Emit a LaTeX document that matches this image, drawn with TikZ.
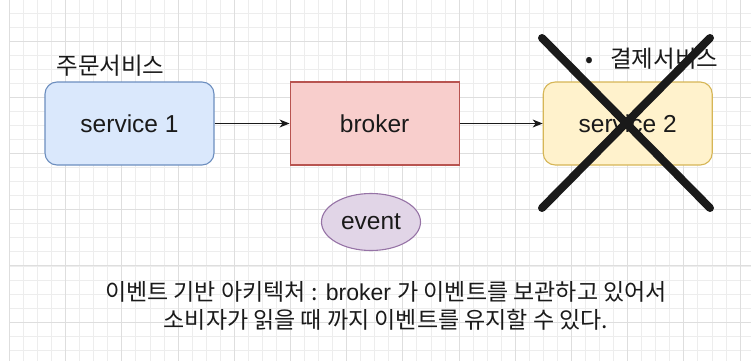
\documentclass[tikz,border=0pt]{standalone}
\usepackage{fontspec}
\setmainfont{Liberation Sans}
\newfontfamily\krfont{Noto Sans CJK KR}
\usetikzlibrary{arrows.meta,positioning,shapes.geometric}

\definecolor{svcfill}{HTML}{DAE8FC}
\definecolor{svcline}{HTML}{6C8EBF}
\definecolor{brkfill}{HTML}{F8CECC}
\definecolor{brkline}{HTML}{B85450}
\definecolor{payfill}{HTML}{FFF2CC}
\definecolor{payline}{HTML}{D6B656}
\definecolor{evtfill}{HTML}{E1D5E7}
\definecolor{evtline}{HTML}{9673A6}
\definecolor{gridminor}{HTML}{EDEDED}
\definecolor{gridmajor}{HTML}{DEDEDE}
\definecolor{ink}{HTML}{1A1A1A}

\begin{document}
\begin{tikzpicture}[
  x=1pt, y=-1pt,
  node distance=75pt,
  box/.style={draw, line width=1.1pt, minimum width=169pt, minimum height=83pt,
    inner sep=0pt, text=ink, font=\fontsize{24.5}{28}\selectfont},
  roundbox/.style={box, rounded corners=12pt},
  label/.style={text=ink, inner sep=0pt, font=\fontsize{23.5}{27}\selectfont\krfont},
  arrow/.style={-{Stealth[length=10pt,width=8pt,inset=3pt]}, line width=1.1pt, ink}
]
\useasboundingbox (0,0) rectangle (751,361);
\fill[white] (0,0) rectangle (751,361);
% background grid
\foreach \i in {0,...,52} \draw[gridminor, line width=0.6pt] (9.3+14.05*\i,0) -- (9.3+14.05*\i,361);
\foreach \j in {-2,...,22} \draw[gridminor, line width=0.6pt] (9.3,41+14.05*\j) -- (751,41+14.05*\j);
\foreach \i in {0,...,13} \draw[gridmajor, line width=0.7pt] (9.3+56.2*\i,0) -- (9.3+56.2*\i,361);
\foreach \j in {-1,...,5} \draw[gridmajor, line width=0.7pt] (9.3,41+56.2*\j) -- (751,41+56.2*\j);

\node[roundbox, fill=svcfill, draw=svcline] (svc1) at (129.5,123.5) {service 1};
\node[box, fill=brkfill, draw=brkline, right=of svc1] (broker) {broker};
\node[roundbox, fill=payfill, draw=payline, right=83pt of broker] (svc2) {service 2};
\node[ellipse, draw=evtline, fill=evtfill, line width=1.1pt, minimum width=99pt,
  minimum height=57pt, inner sep=0pt, text=ink, font=\fontsize{24.5}{28}\selectfont]
  (event) at (371,222) {event};

\node[label] (orderlbl) at (110.5,66) {주문서비스};
\node[label, anchor=west] (paylbl) at (585,59) {•\hspace{17pt}결제서비스};

\draw[arrow] (svc1) -- (broker);
\draw[arrow] (broker) -- (svc2);

% service 2 is crossed out
\draw[line width=8pt, line cap=round, ink] (542,38) -- (710,208);
\draw[line width=8pt, line cap=round, ink] (710,38) -- (542,208);

\node[align=center, text=ink, inner sep=0pt, font=\fontsize{23}{28.5}\selectfont] (note) at (386,306)
  {{\krfont 이벤트 기반 아키텍처 :} broker {\krfont 가 이벤트를 보관하고 있어서}\\
   {\krfont 소비자가 읽을 때 까지 이벤트를 유지할 수 있다.}};
\end{tikzpicture}
\end{document}
